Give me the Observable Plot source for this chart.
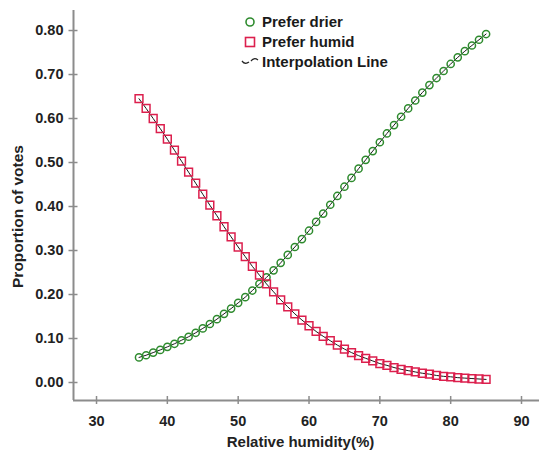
<!DOCTYPE html>
<html>
<head>
<meta charset="utf-8">
<script src="https://cdn.jsdelivr.net/npm/d3@7"></script>
<script src="https://cdn.jsdelivr.net/npm/@observablehq/plot@0.6"></script>
<style>
  html, body { margin: 0; padding: 0; background: #fff; }
  #wrap { position: relative; width: 539px; height: 454px; }
  #legend { position: absolute; left: 240px; top: 12px; font: bold 15px "Liberation Sans", Arial, sans-serif; color: #1a1a1a; }
  #legend div { height: 20px; line-height: 20px; display: flex; align-items: center; white-space: nowrap; }
  #legend svg { width: 20px; height: 20px; margin-right: 2px; }
</style>
</head>
<body>
<div id="wrap"><div id="legend"></div></div>
<script>
const humidity = [36,37,38,39,40,41,42,43,44,45,46,47,48,49,50,51,52,53,54,55,56,57,58,59,60,61,62,63,64,65,66,67,68,69,70,71,72,73,74,75,76,77,78,79,80,81,82,83,84,85];
const preferDrier = [0.057,0.062,0.068,0.074,0.081,0.088,0.096,0.104,0.113,0.123,0.133,0.144,0.156,0.168,0.181,0.194,0.209,0.224,0.239,0.255,0.272,0.290,0.308,0.326,0.345,0.365,0.384,0.404,0.424,0.445,0.465,0.486,0.506,0.526,0.546,0.566,0.585,0.604,0.623,0.641,0.659,0.676,0.692,0.708,0.724,0.739,0.753,0.766,0.779,0.792];
const preferHumid = [0.645,0.623,0.600,0.577,0.553,0.528,0.503,0.478,0.453,0.428,0.403,0.379,0.354,0.331,0.308,0.286,0.264,0.244,0.224,0.206,0.188,0.172,0.156,0.142,0.129,0.116,0.105,0.095,0.085,0.076,0.068,0.061,0.055,0.049,0.043,0.039,0.034,0.030,0.027,0.024,0.021,0.019,0.016,0.014,0.013,0.011,0.010,0.009,0.008,0.007];
const xTicks = [30,40,50,60,70,80,90];
const yTicks = [0,0.1,0.2,0.3,0.4,0.5,0.6,0.7,0.8];
const seriesNames = ["Prefer drier","Prefer humid","Interpolation Line"];
const xLabel = "Relative humidity(%)";
const yLabel = "Proportion of votes";

const green = "#2e8b2e";
const red = "#dc1f4d";
const axisGray = "#8c8c8c";

const drier = humidity.map((h, i) => ({h, p: preferDrier[i]}));
const humid = humidity.map((h, i) => ({h, p: preferHumid[i]}));
const xDomain = [26.75, 92.54];
const yDomain = [-0.0409, 0.8455];

const chart = Plot.plot({
  width: 539, height: 454,
  marginLeft: 73, marginRight: 0, marginTop: 10, marginBottom: 54,
  x: {domain: xDomain},
  y: {domain: yDomain},
  style: {fontFamily: "'Liberation Sans', Arial, sans-serif", fontSize: "14.5px", fontWeight: "bold", color: "#222", background: "#fff"},
  marks: [
    Plot.ruleX([xDomain[0]], {stroke: axisGray, strokeWidth: 2}),
    Plot.ruleY([yDomain[0]], {stroke: axisGray, strokeWidth: 2}),
    Plot.axisY({ticks: yTicks, tickFormat: d3.format(".2f"), tickSize: 9, dx: 4.5, tickPadding: 5.5, stroke: axisGray, strokeWidth: 1.5, label: null, fill: "#222", fontSize: 14.5}),
    Plot.axisX({ticks: xTicks, tickFormat: d3.format("d"), tickSize: 8, dy: -4, tickPadding: 11, stroke: axisGray, strokeWidth: 1.5, label: null, fill: "#222", fontSize: 14.5}),
    Plot.text([xLabel], {frameAnchor: "bottom", textAnchor: "middle", dx: -6, dy: 36, lineAnchor: "top", fontSize: 15, fontWeight: "bold", fill: "#222"}),
    Plot.text([yLabel], {frameAnchor: "left", textAnchor: "middle", lineAnchor: "middle", dx: -55, dy: 11, rotate: -90, fontSize: 15.5, fontWeight: "bold", fill: "#222"}),
    Plot.line(drier, {x: "h", y: "p", stroke: "#1a1a1a", strokeWidth: 1}),
    Plot.line(humid, {x: "h", y: "p", stroke: "#1a1a1a", strokeWidth: 1}),
    Plot.dot(drier, {x: "h", y: "p", r: 3.6, stroke: green, strokeWidth: 1.5, fill: "none"}),
    Plot.dot(humid, {x: "h", y: "p", r: 4.4, symbol: "square", stroke: red, strokeWidth: 1.5, fill: "none"})
  ]
});
document.getElementById("wrap").prepend(chart);

// legend
const legend = document.getElementById("legend");
const legendSymbols = [
  `<circle cx="10" cy="10" r="4" fill="none" stroke="${green}" stroke-width="1.6"/>`,
  `<rect x="5.5" y="5.5" width="9" height="9" fill="none" stroke="${red}" stroke-width="1.6"/>`,
  `<path d="M2,9 Q5,13 9,10 M11,9 Q14,5 18,8" fill="none" stroke="#222" stroke-width="1.3"/>`
];
seriesNames.forEach((name, i) => {
  const row = document.createElement("div");
  row.innerHTML = `<svg viewBox="0 0 20 20">${legendSymbols[i]}</svg><span>${name}</span>`;
  legend.appendChild(row);
});
</script>
</body>
</html>
